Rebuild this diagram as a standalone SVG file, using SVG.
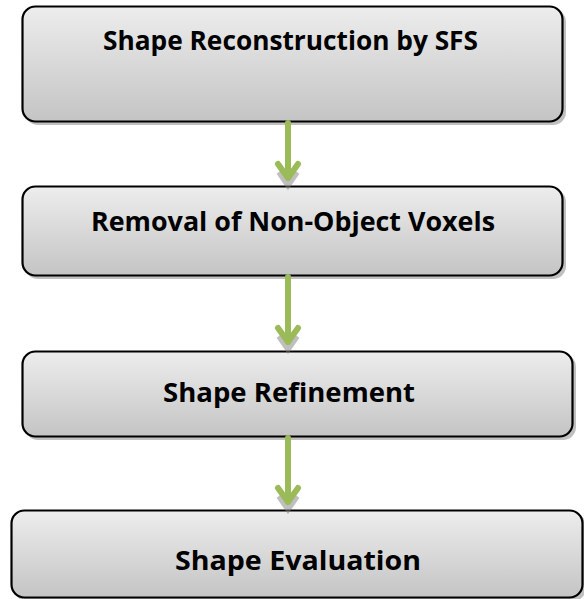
<svg xmlns="http://www.w3.org/2000/svg" width="584" height="599" viewBox="0 0 584 599">
<defs>
<linearGradient id="g" x1="0" y1="0" x2="0" y2="1">
<stop offset="0" stop-color="#EDEDED"/>
<stop offset="1" stop-color="#C4C4C4"/>
</linearGradient>
<style>
.box{fill:url(#g);stroke:#000;stroke-width:2.2}
.sh{fill:#8c8c8c;opacity:0.55}
.t{font-family:"Open Sans","Liberation Sans",sans-serif;font-weight:bold;font-size:27px;fill:#000;text-anchor:middle}
.arr{stroke:#9BBB59;stroke-width:6;fill:none;stroke-linecap:round;stroke-linejoin:round}
.ash{stroke:#7f7f7f;stroke-width:6;fill:none;opacity:0.5}
</style>
</defs>
<rect width="584" height="599" fill="#fff"/>
<g id="n1">
<rect class="sh" x="25" y="9" width="541" height="116" rx="13"/>
<rect class="box" x="22.5" y="6.5" width="540" height="115" rx="13"/>
<text class="t" x="290.5" y="50" textLength="375" lengthAdjust="spacingAndGlyphs">Shape Reconstruction by SFS</text>
</g>
<g id="n2">
<rect class="sh" x="25" y="189" width="541" height="90" rx="13"/>
<rect class="box" x="22.5" y="186.5" width="540" height="89" rx="13"/>
<text class="t" x="293" y="231" textLength="404" lengthAdjust="spacingAndGlyphs">Removal of Non-Object Voxels</text>
</g>
<g id="n3">
<rect class="sh" x="25" y="354" width="551" height="86" rx="13"/>
<rect class="box" x="22.5" y="351.5" width="550" height="85" rx="13"/>
<text class="t" x="289" y="402" textLength="252" lengthAdjust="spacingAndGlyphs">Shape Refinement</text>
</g>
<g id="n4">
<rect class="sh" x="14" y="513" width="572" height="88" rx="13"/>
<rect class="box" x="11.5" y="510.5" width="571" height="87" rx="13"/>
<text class="t" x="298" y="570" textLength="246" lengthAdjust="spacingAndGlyphs">Shape Evaluation</text>
</g>
<g id="connectors">
<path class="ash" d="M288 168 L288 182 M279 170 L288 183 L297 170" transform="translate(0,2)"/>
<path class="arr" d="M288 123 L288 178 M278 164 L288 178 L298 164"/>
<path class="ash" d="M288 340 L288 346 M279 334 L288 347 L297 334" transform="translate(0,2)"/>
<path class="arr" d="M288 277 L288 342 M278 328 L288 342 L298 328"/>
<path class="ash" d="M288 500 L288 506 M279 494 L288 507 L297 494" transform="translate(0,2)"/>
<path class="arr" d="M288 438 L288 502 M278 488 L288 502 L298 488"/>
</g>
</svg>
